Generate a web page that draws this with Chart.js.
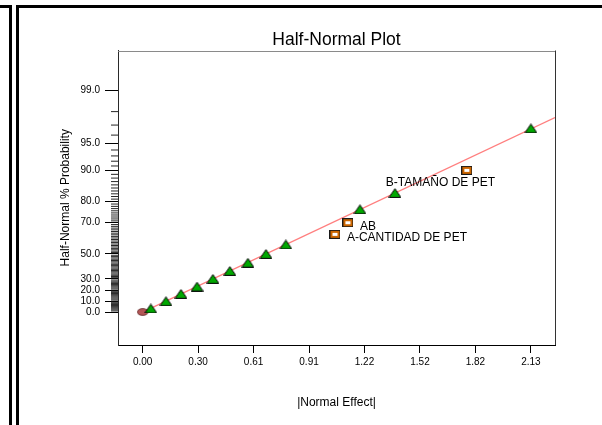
<!DOCTYPE html>
<html>
<head>
<meta charset="utf-8">
<script src="https://cdn.jsdelivr.net/npm/chart.js@4/dist/chart.umd.min.js"></script>
<style>
  html, body { margin: 0; padding: 0; background: #fff; overflow: hidden; }
  #wrap { position: relative; width: 602px; height: 425px; }
  .frame { position: absolute; box-sizing: border-box; border-color: #000; border-style: solid; border-width: 0; }
  #frameA { left: 0; top: 5px; width: 12px; height: 430px; border-top-width: 3px; border-right-width: 3px; }
  #frameB { left: 16px; top: 5px; width: 600px; height: 430px; border-top-width: 3px; border-left-width: 3px; }
  canvas { position: absolute; left: 0; top: 0; }
</style>
</head>
<body>
<div id="wrap">
  <div class="frame" id="frameA"></div>
  <div class="frame" id="frameB"></div>
  <canvas id="chart" width="602" height="425"></canvas>
</div>
<script>
// Labelled effects (model terms)
const termLabels = ['A-CANTIDAD DE PET', 'AB', 'B-TAMAÑO DE PET'];
const termEffect = [1.054, 1.125, 1.777];
const termProb   = [63.3, 70.0, 90.0];

// Remaining effects
const errorEffect = [0.045, 0.128, 0.210, 0.298, 0.385, 0.478, 0.577, 0.676, 0.785, 1.191, 1.383, 2.128];
const errorProb   = [3.3, 10.0, 16.7, 23.3, 30.0, 36.7, 43.3, 50.0, 56.7, 76.7, 83.3, 96.7];

// Origin marker
const originEffect = [0];
const originProb   = [0];

// Reference line end points
const fitEffect = [0, 2.26];
const fitProb   = [0, 97.6];

// Axis ticks
const yTickValues = [0, 10, 20, 30, 50, 70, 80, 90, 95, 99];
const xTickValues = [0, 0.304, 0.608, 0.912, 1.216, 1.52, 1.824, 2.128];

// Label placement relative to each term marker (px)
const termLabelOffsets = [[12, 3], [12, 4], [-81, 12]];

const FONT = "'Liberation Sans', Arial, sans-serif";

// ---- normal distribution helpers ----
function invNorm(p) {
  const a = [-3.969683028665376e+01, 2.209460984245205e+02, -2.759285104469687e+02, 1.383577518672690e+02, -3.066479806614716e+01, 2.506628277459239e+00];
  const b = [-5.447609879822406e+01, 1.615858368580409e+02, -1.556989798598866e+02, 6.680131188771972e+01, -1.328068155288572e+01];
  const c = [-7.784894002430293e-03, -3.223964580411365e-01, -2.400758277161838e+00, -2.549732539343734e+00, 4.374664141464968e+00, 2.938163982698783e+00];
  const d = [7.784695709041462e-03, 3.224671290700398e-01, 2.445134137142996e+00, 3.754408661907416e+00];
  const pl = 0.02425;
  let q, r;
  if (p <= 0) return -Infinity;
  if (p >= 1) return Infinity;
  if (p < pl) {
    q = Math.sqrt(-2 * Math.log(p));
    return (((((c[0]*q+c[1])*q+c[2])*q+c[3])*q+c[4])*q+c[5]) / ((((d[0]*q+d[1])*q+d[2])*q+d[3])*q+1);
  }
  if (p <= 1 - pl) {
    q = p - 0.5; r = q * q;
    return (((((a[0]*r+a[1])*r+a[2])*r+a[3])*r+a[4])*r+a[5])*q / (((((b[0]*r+b[1])*r+b[2])*r+b[3])*r+b[4])*r+1);
  }
  q = Math.sqrt(-2 * Math.log(1 - p));
  return -(((((c[0]*q+c[1])*q+c[2])*q+c[3])*q+c[4])*q+c[5]) / ((((d[0]*q+d[1])*q+d[2])*q+d[3])*q+1);
}
function normCdf(z) {
  const t = 1 / (1 + 0.2316419 * Math.abs(z));
  const poly = t * (0.319381530 + t * (-0.356563782 + t * (1.781477937 + t * (-1.821255978 + t * 1.330274429))));
  const v = 1 - Math.exp(-z * z / 2) / Math.sqrt(2 * Math.PI) * poly;
  return z >= 0 ? v : 1 - v;
}
// half-normal score for a percentage (symmetric below zero)
function hnScore(pct) {
  const s = pct < 0 ? -1 : 1;
  return s * invNorm(0.5 + Math.abs(pct) / 200);
}
function hnPercent(z) {
  const s = z < 0 ? -1 : 1;
  return s * (2 * normCdf(Math.abs(z)) - 1) * 100;
}

// ---- half-normal probability scale ----
class HalfNormalScale extends Chart.Scale {
  determineDataLimits() {
    this.min = this.options.min;
    this.max = this.options.max;
  }
  buildTicks() {
    return yTickValues.map(v => ({ value: v }));
  }
  getLabelForValue(v) {
    return v.toFixed(1);
  }
  configure() {
    super.configure();
    this._zStart = hnScore(this.min);
    this._zRange = hnScore(this.max) - this._zStart;
  }
  getPixelForValue(v) {
    return this.getPixelForDecimal((hnScore(v) - this._zStart) / this._zRange);
  }
  getValueForPixel(px) {
    return hnPercent(this._zStart + this.getDecimalForPixel(px) * this._zRange);
  }
}
HalfNormalScale.id = 'halfnormal';
HalfNormalScale.defaults = {};
Chart.register(HalfNormalScale);

// ---- marker images ----
function makeSquare() {
  const c = document.createElement('canvas');
  c.width = 11; c.height = 9;
  const g = c.getContext('2d');
  g.fillStyle = '#1a1a1a'; g.fillRect(0, 0, 11, 9);
  g.fillStyle = '#cc6600'; g.fillRect(1, 1, 9, 7);
  g.fillStyle = '#ffffff'; g.fillRect(3, 3, 5, 3);
  return c;
}
function makeEllipse() {
  const c = document.createElement('canvas');
  c.width = 12; c.height = 8;
  const g = c.getContext('2d');
  g.beginPath();
  g.ellipse(6, 4, 5.4, 3.4, 0, 0, Math.PI * 2);
  g.fillStyle = '#b35656';
  g.fill();
  g.lineWidth = 0.8;
  g.strokeStyle = '#5e2a2a';
  g.stroke();
  return c;
}
function makeTriangle() {
  const c = document.createElement('canvas');
  c.width = 13; c.height = 10;
  const g = c.getContext('2d');
  g.beginPath();
  g.moveTo(6.5, 0.7);
  g.lineTo(12.4, 9.4);
  g.lineTo(0.6, 9.4);
  g.closePath();
  g.fillStyle = '#00a800';
  g.fill();
  g.lineWidth = 1;
  g.strokeStyle = '#000000';
  g.stroke();
  return c;
}

const pts = (xs, ys) => xs.map((x, i) => ({ x: x, y: ys[i] }));

// minor probability ticks on the left axis
const minorTicks = {
  id: 'minorTicks',
  afterDraw(chart) {
    const ys = chart.scales.y;
    const ctx = chart.ctx;
    const left = chart.chartArea.left;
    ctx.save();
    ctx.strokeStyle = '#262626';
    ctx.lineWidth = 1;
    for (let p = 1; p <= 98; p++) {
      if (yTickValues.includes(p)) continue;
      const y = ys.getPixelForValue(p);
      ctx.beginPath();
      ctx.moveTo(left - 7, y);
      ctx.lineTo(left, y);
      ctx.stroke();
    }
    ctx.restore();
  }
};

// top and right edges of the plot box
const plotFrame = {
  id: 'plotFrame',
  afterDraw(chart) {
    const { left, right, top, bottom } = chart.chartArea;
    const ctx = chart.ctx;
    ctx.save();
    ctx.lineWidth = 1;
    ctx.strokeStyle = '#8a8a8a';
    ctx.beginPath();
    ctx.moveTo(left, Math.round(top) + 0.5);
    ctx.lineTo(right, Math.round(top) + 0.5);
    ctx.stroke();
    ctx.strokeStyle = '#333333';
    ctx.beginPath();
    ctx.moveTo(Math.round(right) + 0.5, top);
    ctx.lineTo(Math.round(right) + 0.5, bottom);
    ctx.stroke();
    ctx.restore();
  }
};

// text next to the labelled terms
const termText = {
  id: 'termText',
  afterDatasetsDraw(chart) {
    const meta = chart.getDatasetMeta(2);
    const ctx = chart.ctx;
    ctx.save();
    ctx.font = '12px ' + FONT;
    ctx.fillStyle = '#000';
    ctx.textAlign = 'left';
    ctx.textBaseline = 'middle';
    meta.data.forEach((el, i) => {
      const off = termLabelOffsets[i];
      ctx.fillText(termLabels[i], el.x + off[0], el.y + off[1]);
    });
    ctx.restore();
  }
};

new Chart(document.getElementById('chart'), {
  type: 'scatter',
  data: {
    datasets: [
      {
        type: 'line',
        data: pts(fitEffect, fitProb),
        borderColor: '#ff7f7f',
        borderWidth: 1.4,
        pointRadius: 0,
        fill: false,
        order: 4
      },
      {
        data: pts(originEffect, originProb),
        pointStyle: makeEllipse(),
        pointRadius: 6,
        order: 3
      },
      {
        data: pts(termEffect, termProb),
        pointStyle: makeSquare(),
        pointRadius: 6,
        order: 2
      },
      {
        data: pts(errorEffect, errorProb),
        pointStyle: makeTriangle(),
        pointRadius: 6.5,
        order: 1
      }
    ]
  },
  options: {
    responsive: false,
    animation: false,
    devicePixelRatio: 1,
    layout: { padding: { left: 20, right: 47, top: 0, bottom: 0 } },
    plugins: {
      legend: { display: false },
      tooltip: { enabled: false },
      title: {
        display: true,
        text: 'Half-Normal Plot',
        fullSize: false,
        color: '#000',
        font: { family: FONT, size: 17.5, weight: 'normal', lineHeight: 1.2 },
        padding: { top: 29.5, bottom: 0 }
      }
    },
    scales: {
      x: {
        type: 'linear',
        min: -0.135,
        max: 2.26,
        afterBuildTicks(scale) { scale.ticks = xTickValues.map(v => ({ value: v })); },
        afterFit(scale) { scale.height = 80; },
        ticks: {
          autoSkip: false,
          maxRotation: 0,
          padding: 3,
          color: '#000',
          font: { family: FONT, size: 10 },
          callback: v => v.toFixed(2)
        },
        grid: { drawOnChartArea: false, drawTicks: true, tickLength: 8, tickColor: '#000', tickWidth: 1 },
        border: { display: true, color: '#000', width: 1 },
        title: {
          display: true,
          text: '|Normal Effect|',
          color: '#000',
          font: { family: FONT, size: 12, lineHeight: 1.2 },
          padding: { top: 0, bottom: 15 }
        }
      },
      y: {
        type: 'halfnormal',
        position: 'left',
        min: -29.8,
        max: 99.76,
        afterFit(scale) { scale.width = 98; },
        ticks: {
          autoSkip: false,
          padding: 5,
          color: '#000',
          font: { family: FONT, size: 10 },
          callback: v => v.toFixed(1)
        },
        grid: { drawOnChartArea: false, drawTicks: true, tickLength: 13, tickColor: '#000', tickWidth: 1 },
        border: { display: true, color: '#2a2a2a', width: 1 },
        title: {
          display: true,
          text: 'Half-Normal % Probability',
          color: '#000',
          font: { family: FONT, size: 12, lineHeight: 1.2 },
          padding: { top: 38, bottom: 0 }
        }
      }
    }
  },
  plugins: [minorTicks, plotFrame, termText]
});
</script>
</body>
</html>
